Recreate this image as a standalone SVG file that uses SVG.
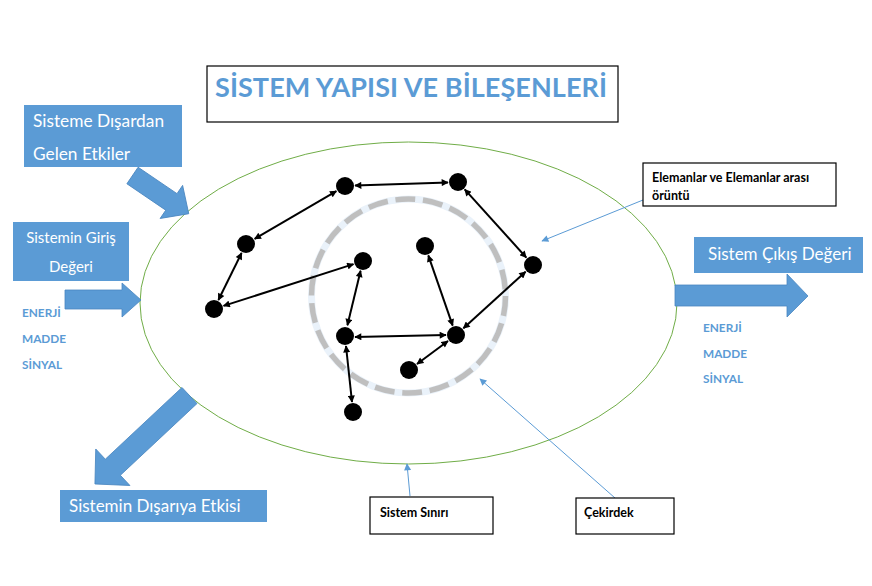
<svg xmlns="http://www.w3.org/2000/svg" width="872" height="586" viewBox="0 0 872 586">
<style>
.bluebox{fill:#5B9BD5;}
.blockarrow{fill:#5B9BD5;stroke:#4A86C0;stroke-width:0.8;}
.wt{fill:#FFFFFF;font-family:Lato,"Open Sans",sans-serif;}
.lbl{fill:#5B9BD5;font-family:Lato,"Open Sans",sans-serif;font-weight:bold;font-size:11.8px;}
.note{fill:#FFFFFF;stroke:#000000;stroke-width:1.2;}
.nt{fill:#000000;font-family:Lato,"Open Sans",sans-serif;font-weight:bold;font-size:12.5px;}
.node{fill:#000000;}
.link{stroke:#000000;stroke-width:2;fill:none;marker-start:url(#ah);marker-end:url(#ah);}
.ptr{stroke:#5B9BD5;stroke-width:1;fill:none;marker-end:url(#bh);}
</style>
<defs>
<marker id="ah" viewBox="0 0 10 10" refX="9" refY="5" markerWidth="8" markerHeight="7" markerUnits="userSpaceOnUse" orient="auto-start-reverse">
<path d="M0,0 L10,5 L0,10 z" fill="#000000"/>
</marker>
<marker id="bh" viewBox="0 0 10 10" refX="9" refY="5" markerWidth="8" markerHeight="7" markerUnits="userSpaceOnUse" orient="auto">
<path d="M0,0 L10,5 L0,10 z" fill="#5B9BD5"/>
</marker>
</defs>
<rect width="872" height="586" fill="#FFFFFF"/>

<g id="title">
<rect x="207" y="66" width="411" height="56" fill="#FFFFFF" stroke="#000000" stroke-width="1.2"/>
<text x="411" y="97" text-anchor="middle" font-family="Lato,'Open Sans',sans-serif" font-size="27" font-weight="bold" fill="#5B9BD5" textLength="392">SİSTEM YAPISI VE BİLEŞENLERİ</text>
</g>

<g id="system-boundary">
<ellipse cx="408.5" cy="303" rx="268.5" ry="161" fill="none" stroke="#70AD47" stroke-width="1"/>
</g>

<g id="core">
<circle cx="408.5" cy="296" r="97" fill="none" stroke="#EAF2FA" stroke-width="7"/>
<circle cx="408.5" cy="296" r="97" fill="none" stroke="#BFBFBF" stroke-width="5.5" stroke-dasharray="20 7.7"/>
</g>

<g id="connectors">
<line class="link" x1="355" y1="185.6" x2="448" y2="182.4"/>
<line class="link" x1="336.4" y1="191.1" x2="254.6" y2="238.9"/>
<line class="link" x1="241.6" y1="253" x2="218.4" y2="300"/>
<line class="link" x1="223.5" y1="305.9" x2="353.5" y2="264.1"/>
<line class="link" x1="360.6" y1="270.7" x2="347.4" y2="325.3"/>
<line class="link" x1="464.7" y1="189.4" x2="526.3" y2="257.6"/>
<line class="link" x1="428.3" y1="255.4" x2="452.7" y2="325.6"/>
<line class="link" x1="525.6" y1="271.7" x2="463.4" y2="328.3"/>
<line class="link" x1="355" y1="337" x2="446" y2="335"/>
<line class="link" x1="448" y1="341" x2="417" y2="364"/>
<line class="link" x1="346" y1="346" x2="352" y2="402"/>
<line class="ptr" x1="643" y1="200" x2="542" y2="241"/>
<line class="ptr" x1="410" y1="496" x2="407" y2="464"/>
<line class="ptr" x1="615" y1="498" x2="480" y2="379"/>
</g>

<g id="elements">
<circle id="n1" class="node" cx="345" cy="186" r="9"/>
<circle id="n2" class="node" cx="458" cy="182" r="9"/>
<circle id="n3" class="node" cx="246" cy="244" r="9"/>
<circle id="n4" class="node" cx="214" cy="309" r="9"/>
<circle id="n5" class="node" cx="363" cy="261" r="9"/>
<circle id="n6" class="node" cx="425" cy="246" r="9"/>
<circle id="n7" class="node" cx="533" cy="265" r="9"/>
<circle id="n8" class="node" cx="345" cy="336" r="9"/>
<circle id="n9" class="node" cx="456" cy="335" r="9"/>
<circle id="n10" class="node" cx="409" cy="370" r="9"/>
<circle id="n11" class="node" cx="353" cy="412" r="9"/>
</g>

<g id="external-effects">
<rect class="bluebox" x="24" y="105" width="158" height="62"/>
<text class="wt" x="33" y="127" font-size="17.3">Sisteme Dışardan</text>
<text class="wt" x="33" y="160" font-size="17.3">Gelen Etkiler</text>
<polygon class="blockarrow" transform="translate(132.5,175.5) rotate(34.2)" points="0,-10 47,-10 47,-20 68,0 47,20 47,10 0,10"/>
</g>

<g id="input">
<rect class="bluebox" x="13" y="222" width="116" height="59"/>
<text class="wt" x="71" y="243" font-size="15" text-anchor="middle">Sistemin Giriş</text>
<text class="wt" x="71" y="272" font-size="15" text-anchor="middle">Değeri</text>
<polygon class="blockarrow" points="65,290 122,290 122,283 141,300 122,317 122,309 65,309"/>
<text class="lbl" x="22" y="317">ENERJİ</text>
<text class="lbl" x="22" y="343">MADDE</text>
<text class="lbl" x="22" y="369">SİNYAL</text>
</g>

<g id="output">
<rect class="bluebox" x="694" y="237" width="169" height="36"/>
<text class="wt" x="708" y="260" font-size="17">Sistem Çıkış Değeri</text>
<polygon class="blockarrow" points="675,285 787,285 787,274 808,296 787,317 787,306 675,306"/>
<text class="lbl" x="703" y="332">ENERJİ</text>
<text class="lbl" x="703" y="358">MADDE</text>
<text class="lbl" x="703" y="383">SİNYAL</text>
</g>

<g id="external-output">
<polygon class="blockarrow" transform="translate(189.5,395.5) rotate(136.9)" points="0,-11 105,-11 105,-25 129.5,0 105,25 105,11 0,11"/>
<rect class="bluebox" x="60" y="490" width="207" height="32"/>
<text class="wt" x="69" y="512" font-size="17">Sistemin Dışarıya Etkisi</text>
</g>

<g id="note-elements">
<rect class="note" x="643" y="163" width="193" height="43"/>
<text class="nt" x="652" y="182">Elemanlar ve Elemanlar arası</text>
<text class="nt" x="652" y="200">örüntü</text>
</g>

<g id="note-boundary">
<rect class="note" x="370" y="497" width="123" height="37"/>
<text class="nt" x="380" y="517">Sistem Sınırı</text>
</g>

<g id="note-core">
<rect class="note" x="576" y="498" width="98" height="36"/>
<text class="nt" x="584" y="517">Çekirdek</text>
</g>
</svg>
